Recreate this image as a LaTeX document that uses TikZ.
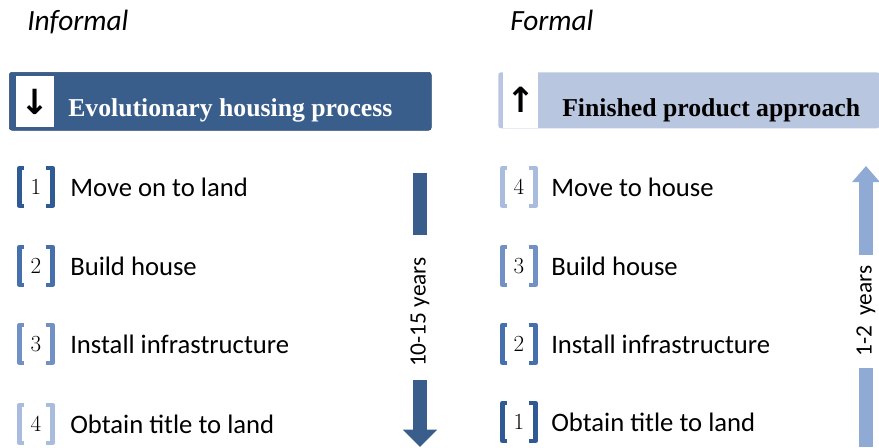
\documentclass[tikz,border=0pt]{standalone}
\usepackage{fontspec}
\setmainfont{Carlito}
\newfontfamily\hdrfont{Liberation Serif}
\newfontfamily\symfont{DejaVu Sans}
\usepackage{tikz}
\usetikzlibrary{arrows.meta,positioning}

\definecolor{evoblue}{HTML}{3A5E8C}
\definecolor{finblue}{HTML}{B9C6DF}
\definecolor{fastblue}{HTML}{8EAAD5}
\definecolor{stepA}{HTML}{2F5A94}
\definecolor{stepB}{HTML}{4670AC}
\definecolor{stepC}{HTML}{7190C6}
\definecolor{stepD}{HTML}{A9BCDE}

\tikzset{
    title/.style={anchor=base west, inner sep=0pt, font=\fontsize{22}{26}\selectfont\itshape},
    steptext/.style={anchor=base west, inner sep=0pt, font=\fontsize{20}{24}\selectfont},
    stepnum/.style={minimum width=24pt, minimum height=28pt, inner sep=0pt,
        font=\fontsize{18}{20}\selectfont},
    brk/.style={line width=3.5pt, line join=round},
    hdrtext/.style={anchor=base west, inner sep=0pt, font=\fontsize{19.3}{22}\selectfont\hdrfont\bfseries},
    arrowbox/.style={fill=white, inner sep=0pt, anchor=north west,
        font=\fontsize{26}{26}\selectfont\symfont\bfseries},
    spantext/.style={rotate=90, inner sep=0pt, font=\fontsize{17.5}{20}\selectfont},
}

\begin{document}
\begin{tikzpicture}[x=0.75pt, y=-0.75pt]
    \useasboundingbox (0,0) rectangle (879,447);

    % column titles
    \node[title] (informal) at (27,30) {Informal};
    \node[title] (formal)   at (510,30) {Formal};

    % header bars
    \node[draw=evoblue!80!black, fill=evoblue, rounded corners=2pt, anchor=north west,
          minimum width=316.5pt, minimum height=43.5pt, inner sep=0pt] (evo) at (9,72) {};
    \node[arrowbox, minimum width=28.5pt, minimum height=38pt] (evoarr) at (16,76)
        {\raisebox{-4pt}{↓}};
    \node[hdrtext, text=white] (evotext) at (68,116) {Evolutionary housing process};

    \node[fill=finblue, rounded corners=2pt, anchor=north west,
          minimum width=286pt, minimum height=42pt, inner sep=0pt] (fin) at (498,72) {};
    \node[arrowbox, minimum width=26pt, minimum height=42pt] (finarr) at (503,72)
        {\raisebox{-4pt}{↑}};
    \node[hdrtext] (fintext) at (562,116) {Finished product approach};

    % informal steps
    \foreach \i/\y/\c/\t in {1/187/stepA/Move on to land,
                             2/266/stepB/Build house,
                             3/344/stepC/Install infrastructure,
                             4/424/stepD/Obtain title to land} {
        \node[stepnum] (l\i) at (36,\y) {\raisebox{-2pt}{$\i$}};
        \draw[brk, \c] ([xshift=3pt]l\i.north west) -- (l\i.north west)
            -- (l\i.south west) -- ([xshift=3pt]l\i.south west);
        \draw[brk, \c] ([xshift=-5pt]l\i.north east) -- (l\i.north east)
            -- (l\i.south east) -- ([xshift=-5pt]l\i.south east);
        \node[steptext] (lt\i) at (70,\y+9) {\t};
    }

    % formal steps
    \foreach \i/\y/\c/\t in {4/187/stepD/Move to house,
                             3/266/stepC/Build house,
                             2/344/stepB/Install infrastructure,
                             1/422/stepA/Obtain title to land} {
        \node[stepnum] (r\i) at (519,\y) {\raisebox{-2pt}{$\i$}};
        \draw[brk, \c] ([xshift=3pt]r\i.north west) -- (r\i.north west)
            -- (r\i.south west) -- ([xshift=3pt]r\i.south west);
        \draw[brk, \c] ([xshift=-5pt]r\i.north east) -- (r\i.north east)
            -- (r\i.south east) -- ([xshift=-5pt]r\i.south east);
        \node[steptext] (rt\i) at (551,\y+9) {\t};
    }

    % time spans
    \node[spantext] (lspan) at (420,312) {10-15 years};
    \coordinate (ltop) at (420,173);
    \coordinate (lbar) at (420,235);
    \coordinate (lbot) at (420,380);
    \coordinate (ltip) at (420,447);
    \draw[line width=10.5pt, evoblue] (ltop) -- (lbar);
    \draw[line width=10.5pt, evoblue, -{Triangle[width=25pt, length=13pt]}] (lbot) -- (ltip);

    \node[spantext] (rspan) at (866,311) {1-2\ \ years};
    \coordinate (rtip) at (866,166);
    \coordinate (rbar) at (866,255);
    \coordinate (rtop) at (866,368);
    \coordinate (rbot) at (866,447);
    \draw[line width=11pt, fastblue, -{Triangle[width=20pt, length=12pt]}] (rbar) -- (rtip);
    \draw[line width=11pt, fastblue] (rtop) -- (rbot);
\end{tikzpicture}
\end{document}
